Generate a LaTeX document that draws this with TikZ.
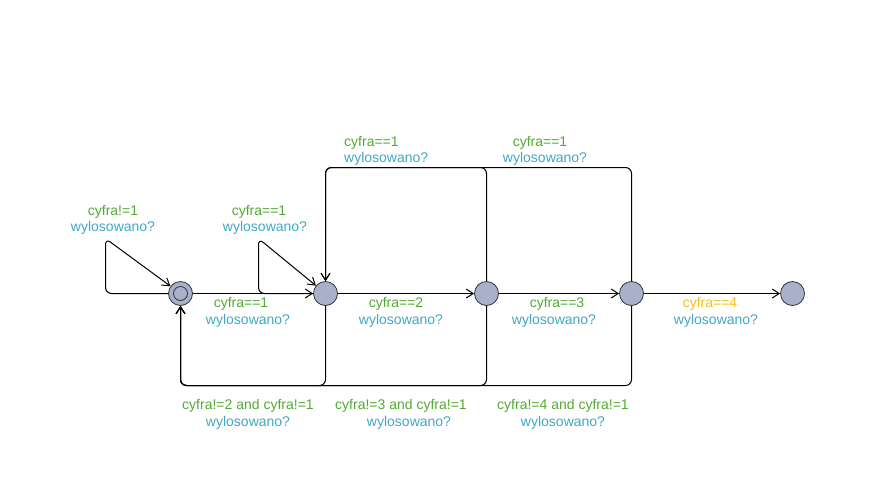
\documentclass[tikz,border=0pt]{standalone}
\usepackage{fontspec}
\setmainfont{Liberation Sans}
\usetikzlibrary{arrows.meta}
\definecolor{guardc}{RGB}{82,170,50}
\definecolor{syncc}{RGB}{64,168,196}
\definecolor{guardy}{RGB}{240,192,30}
\definecolor{locfill}{RGB}{168,176,204}
\tikzset{
  loc/.style={circle,draw=black!80,fill=locfill,line width=0.8pt,minimum size=24pt,inner sep=0pt},
  edge/.style={draw=black,line width=1pt,rounded corners=6pt,-{Straight Barb[length=7pt,width=9pt]}},
  lbl/.style={font=\fontsize{14}{16}\selectfont,inner sep=0pt},
  grd/.style={lbl,text=guardc},
  syn/.style={lbl,text=syncc},
}
\begin{document}
\begin{tikzpicture}[x=1pt,y=-1pt]
\useasboundingbox (0,0) rectangle (893,483);
% locations
\node[loc] (s0) at (180.5,293.5) {};
\draw[black!80,line width=0.8pt] (s0.center) circle (7pt);
\node[loc] (s1) at (325.5,293.5) {};
\node[loc] (s2) at (486.5,293.5) {};
\node[loc] (s3) at (631.5,293.5) {};
\node[loc] (s4) at (792.5,293.5) {};
% self loops
\draw[edge] (s0) -- (105.5,293.5) -- (105.5,238.5) -- (s0);
\draw[edge] (s1) -- (258.5,293.5) -- (258.5,238.5) -- (s1);
% forward edges
\draw[edge] (s0) -- (s1);
\draw[edge] (s1) -- (s2);
\draw[edge] (s2) -- (s3);
\draw[edge] (s3) -- (s4);
% top edges back to s1
\draw[edge] (s2) -- (486.5,167.5) -- (325.5,167.5) -- (s1);
\draw[edge] (s3) -- (631.5,167.5) -- (325.5,167.5) -- (s1);
% bottom edges back to s0
\draw[edge] (s1) -- (325.5,385.5) -- (180.5,385.5) -- (s0);
\draw[edge] (s2) -- (486.5,385.5) -- (180.5,385.5) -- (s0);
\draw[edge] (s3) -- (631.5,385.5) -- (180.5,385.5) -- (s0);
% labels
\node[grd] (l0a) at (113,212) {cyfra!=1};
\node[syn] (l0b) at (113,228) {wylosowano?};
\node[grd] (l1a) at (259,212) {cyfra==1};
\node[syn] (l1b) at (265,228) {wylosowano?};
\node[grd,anchor=west] (l2a) at (344,143) {cyfra==1};
\node[syn,anchor=west] (l2b) at (344,159) {wylosowano?};
\node[grd] (l3a) at (540,143) {cyfra==1};
\node[syn] (l3b) at (545,159) {wylosowano?};
\node[grd] (l4a) at (241,304) {cyfra==1};
\node[syn] (l4b) at (248,321) {wylosowano?};
\node[grd] (l5a) at (396,304) {cyfra==2};
\node[syn] (l5b) at (401,321) {wylosowano?};
\node[grd] (l6a) at (557,304) {cyfra==3};
\node[syn] (l6b) at (554,321) {wylosowano?};
\node[lbl,text=guardy] (l7a) at (710,304) {cyfra==4};
\node[syn] (l7b) at (716,321) {wylosowano?};
\node[grd] (l8a) at (248,406) {cyfra!=2 and cyfra!=1};
\node[syn] (l8b) at (248,423) {wylosowano?};
\node[grd] (l9a) at (401,406) {cyfra!=3 and cyfra!=1};
\node[syn] (l9b) at (409,423) {wylosowano?};
\node[grd] (l10a) at (563,406) {cyfra!=4 and cyfra!=1};
\node[syn] (l10b) at (563,423) {wylosowano?};
\end{tikzpicture}
\end{document}
